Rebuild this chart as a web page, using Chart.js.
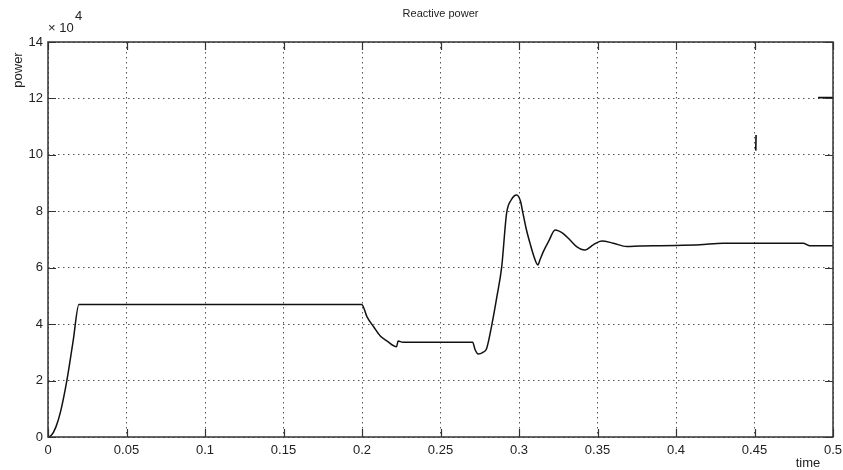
<!DOCTYPE html>
<html>
<head>
<meta charset="utf-8">
<script src="https://cdn.jsdelivr.net/npm/chart.js@4/dist/chart.umd.min.js"></script>
<style>
html,body{margin:0;padding:0;background:#fff;}
#wrap{width:843px;height:470px;position:relative;}
</style>
</head>
<body>
<div id="wrap"><canvas id="c" width="843" height="470"></canvas></div>
<script>
// ---- data (power in units of 10^4) ----
const timeValues  = [0, 0.002, 0.005, 0.008, 0.012, 0.016, 0.0197, 0.1998, 0.2032, 0.2075, 0.2115, 0.2160, 0.2220, 0.2230, 0.2260, 0.2705, 0.2720, 0.2740, 0.2770, 0.2794, 0.2826, 0.2860, 0.2890, 0.2921, 0.2950, 0.2985, 0.3010, 0.3023, 0.3045, 0.3070, 0.3095, 0.3120, 0.3135, 0.3155, 0.3190, 0.3230, 0.3280, 0.3325, 0.3367, 0.3420, 0.3473, 0.3527, 0.3600, 0.3686, 0.3770, 0.3900, 0.4000, 0.4150, 0.4300, 0.4500, 0.4810, 0.4850, 0.5000];
const powerValues = [0, 0.05, 0.35, 0.9, 2.0, 3.4, 4.70, 4.70, 4.26, 3.90, 3.59, 3.40, 3.20, 3.40, 3.36, 3.36, 3.10, 2.94, 3.00, 3.14, 3.95, 5.00, 6.04, 7.93, 8.40, 8.58, 8.35, 7.99, 7.40, 6.87, 6.40, 6.10, 6.30, 6.57, 6.95, 7.34, 7.22, 6.98, 6.75, 6.63, 6.81, 6.95, 6.87, 6.75, 6.77, 6.78, 6.79, 6.81, 6.87, 6.87, 6.87, 6.78, 6.78];
// stray spikes visible in the plot
const spikeTime  = [0.4508, 0.4510, null, 0.4905, 0.5000];
const spikePower = [10.15, 10.70, null, 12.03, 12.03];
const xTicks = [0, 0.05, 0.1, 0.15, 0.2, 0.25, 0.3, 0.35, 0.4, 0.45, 0.5];
const yTicks = [0, 2, 4, 6, 8, 10, 12, 14];
const chartTitle = 'Reactive power';
const xLabel = 'time';
const yLabel = 'power';

const mainPts = timeValues.map((t,i)=>({x:t,y:powerValues[i]}));
const spikePts = spikeTime.map((t,i)=>({x:t===null?NaN:t,y:spikePower[i]}));

const FONT = '"Liberation Sans", Arial, sans-serif';
const TXT = '#222';

const decor = {
  id:'decor',
  afterDraw(chart){
    const {ctx, chartArea:a, scales:{x,y}} = chart;
    ctx.save();
    // box
    ctx.strokeStyle = '#333';
    ctx.lineWidth = 1.5;
    ctx.strokeRect(a.left, a.top, a.right-a.left, a.bottom-a.top);
    // inward ticks
    ctx.lineWidth = 1.2;
    const L = 8;
    ctx.beginPath();
    xTicks.forEach(v=>{
      const px = Math.round(x.getPixelForValue(v))+0.5;
      ctx.moveTo(px,a.bottom); ctx.lineTo(px,a.bottom-L);
      ctx.moveTo(px,a.top); ctx.lineTo(px,a.top+L);
    });
    yTicks.forEach(v=>{
      const py = Math.round(y.getPixelForValue(v))+0.5;
      ctx.moveTo(a.left,py); ctx.lineTo(a.left+L,py);
      ctx.moveTo(a.right,py); ctx.lineTo(a.right-L,py);
    });
    ctx.stroke();
    // title
    ctx.fillStyle = TXT;
    ctx.font = '11px ' + FONT;
    ctx.textAlign = 'center';
    ctx.textBaseline = 'middle';
    ctx.fillText(chartTitle, (a.left+a.right)/2, 14);
    // exponent
    ctx.font = '13px ' + FONT;
    ctx.textAlign = 'left';
    ctx.fillText('\u00d7 10', a.left, a.top-14);
    ctx.fillText('4', a.left+27, a.top-26);
    // x label
    ctx.font = '13px ' + FONT;
    ctx.textAlign = 'center';
    ctx.fillText(xLabel, a.right-25, a.bottom+26);
    // y label
    ctx.translate(18, a.top+28);
    ctx.rotate(-Math.PI/2);
    ctx.fillText(yLabel, 0, 0);
    ctx.restore();
  }
};

new Chart(document.getElementById('c'), {
  type:'line',
  data:{datasets:[
    {data:mainPts, borderColor:'#111', borderWidth:1.5, pointRadius:0, cubicInterpolationMode:'monotone', fill:false, spanGaps:false},
    {data:spikePts, borderColor:'#111', borderWidth:1.6, pointRadius:0, tension:0, fill:false, spanGaps:false}
  ]},
  options:{
    responsive:false,
    animation:false,
    events:[],
    layout:{padding:{top:42,right:10,left:0,bottom:0}},
    plugins:{legend:{display:false},title:{display:false},tooltip:{enabled:false}},
    scales:{
      x:{
        type:'linear', min:0, max:0.5,
        afterBuildTicks(s){ s.ticks = xTicks.map(v=>({value:v})); },
        afterFit(s){ s.height = 33; s.paddingLeft = 0; s.paddingRight = 0; },
        grid:{color:'#555', lineWidth:1, tickLength:0, drawTicks:false},
        border:{display:false, dash:[1.5,3.5]},
        ticks:{color:TXT, font:{family:FONT,size:13}, padding:6, maxRotation:0, autoSkip:false,
          callback:v=>String(Math.round(v*100)/100)}
      },
      y:{
        type:'linear', min:0, max:14,
        afterBuildTicks(s){ s.ticks = yTicks.map(v=>({value:v})); },
        afterFit(s){ s.width = 48; s.paddingTop = 0; s.paddingBottom = 0; },
        grid:{color:'#555', lineWidth:1, tickLength:0, drawTicks:false},
        border:{display:false, dash:[1.5,3.5]},
        ticks:{color:TXT, font:{family:FONT,size:13}, padding:5, autoSkip:false,
          callback:v=>String(v)}
      }
    }
  },
  plugins:[decor]
});
</script>
</body>
</html>
